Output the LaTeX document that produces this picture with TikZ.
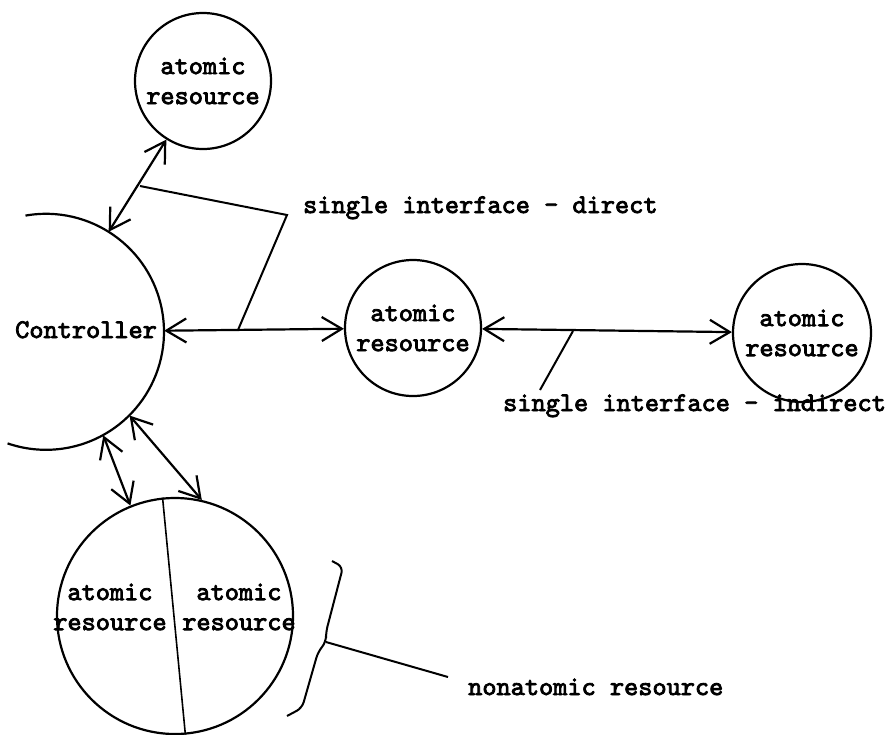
\documentclass[tikz,border=0pt]{standalone}
\usepackage{fontspec}
\setmonofont{lmmono10-regular}[Extension=.otf,AutoFakeBold=3]
\usetikzlibrary{arrows.meta}
\begin{document}
\begin{tikzpicture}[x=1pt,y=-1pt,
  every node/.style={font=\ttfamily\bfseries\fontsize{27}{30}\selectfont},
  res/.style={circle,draw,line width=2.2pt,inner sep=0pt,align=center},
  lbl/.style={inner sep=0pt,anchor=base west},
  barb/.tip={Straight Barb[length=20pt,width=24pt]},
  link/.style={line width=2.2pt,barb-barb},
  callout/.style={line width=2pt}]
\useasboundingbox (0,0) rectangle (891,734);

% resources
\node[res,minimum size=136pt] (top) at (203,81) {atomic\\resource};
\node[res,minimum size=136pt] (mid) at (413,328) {atomic\\resource};
\node[res,minimum size=138pt] (right) at (802,333) {atomic\\resource};
\node[res,minimum size=236pt] (bot) at (175,616) {};
\node[inner sep=0pt,align=center] (botL) at (110,607) {atomic\\resource};
\node[inner sep=0pt,align=center] (botR) at (239,607) {atomic\\resource};
\draw[line width=1.6pt] (bot.96) -- (bot.-85);

% controller (partial circle)
\node[circle,inner sep=0pt,minimum size=236pt] (ctrl) at (46,332) {};
\draw[line width=2.2pt] (ctrl.100) arc[start angle=-100, end angle=109, radius=118];
\node[lbl] (ctrllbl) at (15,338) {Controller};

% interfaces
\draw[link] (ctrl) -- (top);
\draw[link] (ctrl) -- (mid);
\draw[link] (mid) -- (right);
\draw[link] (ctrl.-61) -- (bot.112);
\draw[link] (ctrl.-45) -- (bot.77);

% callout: direct
\coordinate (d1) at (140,186);
\coordinate (dk) at (287,215);
\coordinate (d2) at (238,330);
\draw[callout] (d1) -- (dk) -- (d2);
\node[lbl] (direct) at (303,213) {single interface - direct};

% callout: indirect
\coordinate (i1) at (573,331);
\coordinate (i2) at (540,390);
\draw[callout] (i1) -- (i2);
\node[lbl] (indirect) at (503,411) {single interface - indirect};

% brace: nonatomic
\coordinate (cusp) at (326,642);
\coordinate (nend) at (448,677);
\draw[callout,rounded corners=6pt] (332,561) -- (343,567) -- (326,632) -- (cusp) -- (318,652) -- (302,708) -- (287,716);
\draw[callout] (cusp) -- (nend);
\node[lbl] (nonatomic) at (468,695) {nonatomic resource};
\end{tikzpicture}
\end{document}
